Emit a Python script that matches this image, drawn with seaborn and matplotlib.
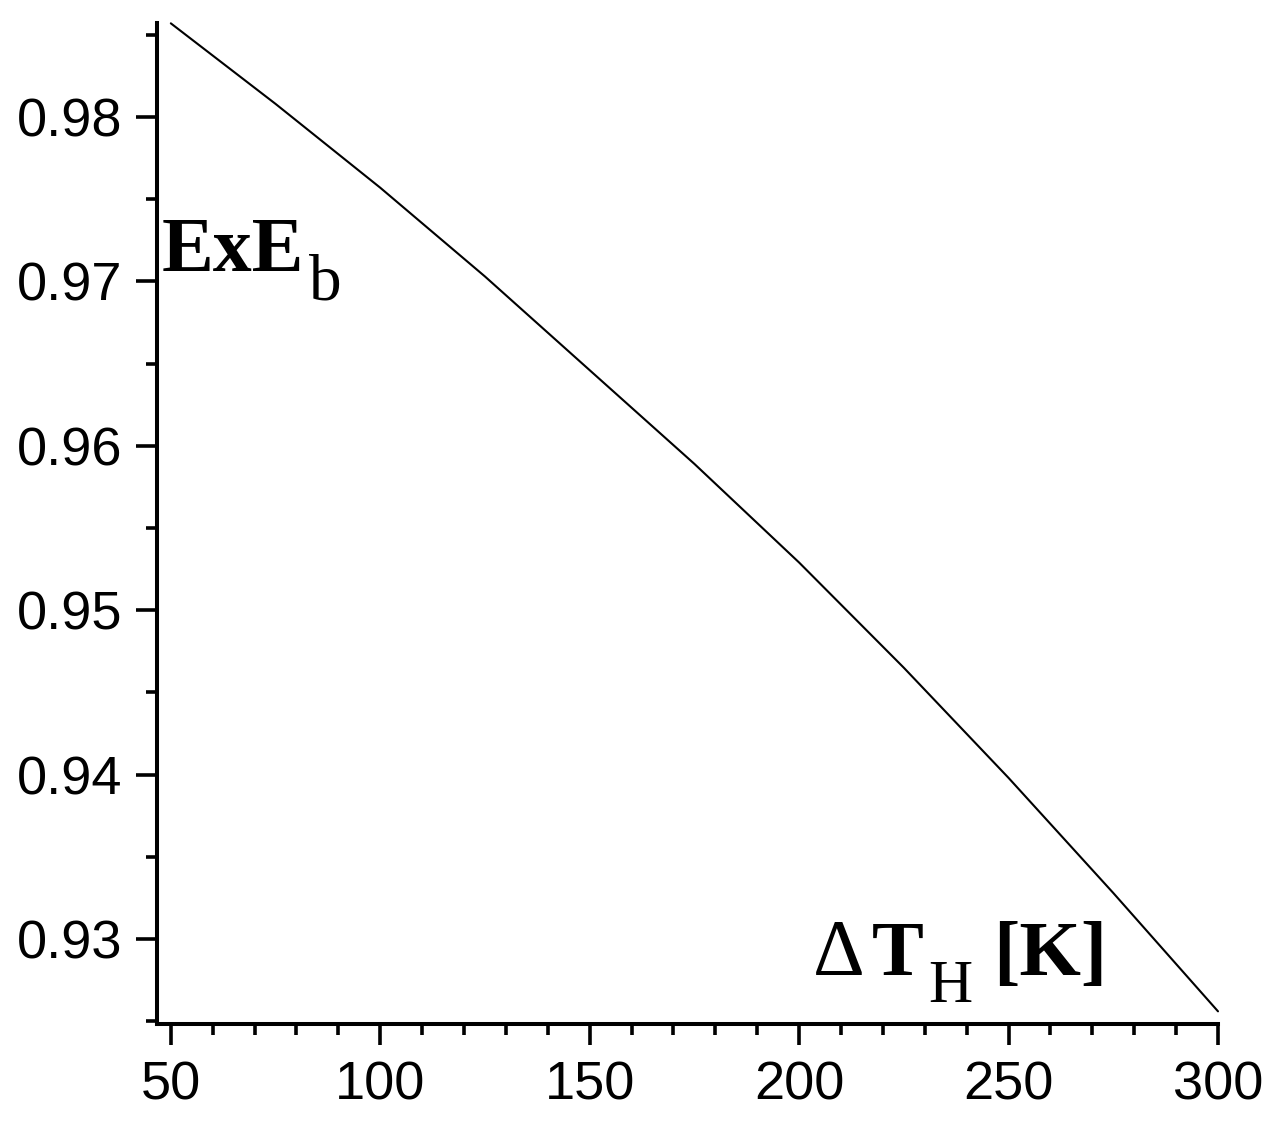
import matplotlib
matplotlib.use("Agg")
import matplotlib.pyplot as plt
import numpy as np
import pandas as pd
import seaborn as sns
from matplotlib.ticker import MultipleLocator, FormatStrFormatter

# values
DELTA_T = [50, 75, 100, 125, 150, 175, 200, 225, 250, 275, 300]
EXE_B = [0.9857, 0.9808, 0.9757, 0.9703, 0.9646, 0.9589, 0.9529, 0.9465, 0.9398, 0.9328, 0.9256]

X_TICKS = [50, 100, 150, 200, 250, 300]
Y_TICKS = [0.93, 0.94, 0.95, 0.96, 0.97, 0.98]

W, H = 1279, 1139

sns.set_theme(style="ticks")
plt.rcParams["font.family"] = ["Liberation Sans Narrow", "Liberation Sans", "DejaVu Sans"]
plt.rcParams["axes.linewidth"] = 2.9

df = pd.DataFrame({"dT": DELTA_T, "exe": EXE_B})

fig = plt.figure(figsize=(W / 100, H / 100), dpi=100)
fig.patch.set_facecolor("white")
ax = fig.add_axes([157 / W, (H - 1024) / H, (1218 - 157) / W, (1024 - 23) / H])
ax.set_facecolor("white")

sns.lineplot(data=df, x="dT", y="exe", ax=ax, color="black", linewidth=1.5, clip_on=False)

ax.set_xlim(46.7, 300)
ax.set_ylim(0.92483, 0.98572)
ax.set_xticks(X_TICKS)
ax.set_yticks(Y_TICKS)
ax.xaxis.set_minor_locator(MultipleLocator(10))
ax.yaxis.set_minor_locator(MultipleLocator(0.005))
ax.yaxis.set_major_formatter(FormatStrFormatter("%.2f"))
ax.xaxis.set_major_formatter(FormatStrFormatter("%d"))

for side in ["top", "right"]:
    ax.spines[side].set_visible(False)
for side in ["left", "bottom"]:
    ax.spines[side].set_color("black")
    ax.spines[side].set_linewidth(2.9)

ax.tick_params(which="major", direction="out", length=15, width=2.6, color="black",
               labelsize=39, labelcolor="black")
ax.tick_params(which="minor", direction="out", length=8, width=2.6, color="black")
ax.tick_params(axis="y", which="major", pad=10)
ax.tick_params(axis="x", which="major", pad=11)
ax.set_xlabel("")
ax.set_ylabel("")


def put(x, y, s, size, weight="normal"):
    fig.text(x / W, 1 - y / H, s, fontsize=size, fontweight=weight,
             family=["Liberation Serif", "DejaVu Serif"], ha="left", va="baseline",
             color="black")


# y label: ExE_b
put(162, 271, "ExE", 56, "bold")
put(309, 299, "b", 47)

# x label: ΔT_H [K]
put(813, 975, "Δ", 58)
put(872, 975, "T", 56, "bold")
put(928, 1002, "H", 44)
put(993, 975, "[K]", 57, "bold")

fig.savefig("out.png", dpi=100)
